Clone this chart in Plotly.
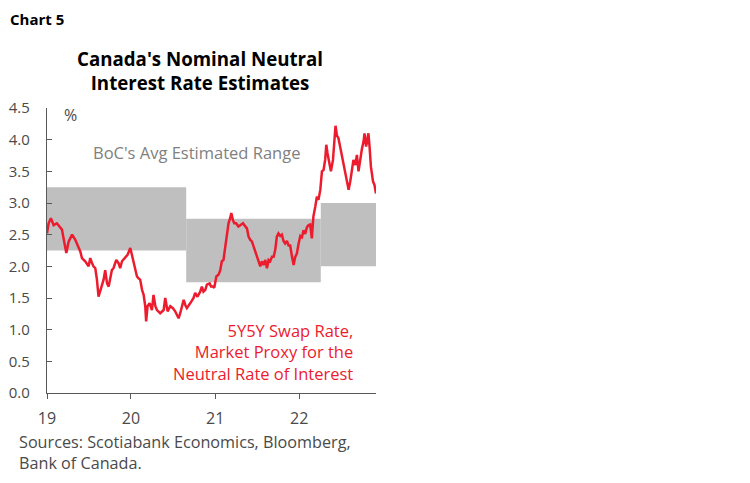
import plotly.graph_objects as go

# 5Y5Y swap rate (weekly-ish readings)
swap_dates = [
    "2019-01-01", "2019-01-08", "2019-01-18", "2019-01-30", "2019-02-13", "2019-02-28", "2019-03-07",
    "2019-03-14", "2019-03-26", "2019-04-05", "2019-04-20", "2019-05-04", "2019-05-18", "2019-05-26",
    "2019-06-02", "2019-06-16", "2019-07-01", "2019-07-08", "2019-07-16", "2019-07-22", "2019-07-30",
    "2019-08-06", "2019-08-13", "2019-08-21", "2019-08-28", "2019-09-04", "2019-09-11", "2019-09-19",
    "2019-09-26", "2019-10-03", "2019-10-10", "2019-10-17", "2019-10-29", "2019-11-08", "2019-11-15",
    "2019-11-23", "2019-12-07", "2019-12-17", "2019-12-29", "2020-01-05", "2020-01-12", "2020-01-20",
    "2020-01-27", "2020-02-03", "2020-02-10", "2020-02-18", "2020-02-25", "2020-03-03", "2020-03-07",
    "2020-03-13", "2020-03-22", "2020-04-01", "2020-04-08", "2020-04-16", "2020-04-23", "2020-05-07",
    "2020-05-22", "2020-05-29", "2020-06-08", "2020-06-20", "2020-07-01", "2020-07-11", "2020-07-26",
    "2020-08-02", "2020-08-10", "2020-08-17", "2020-08-24", "2020-08-31", "2020-09-15", "2020-09-29",
    "2020-10-06", "2020-10-16", "2020-10-28", "2020-11-04", "2020-11-11", "2020-11-19", "2020-11-26",
    "2020-12-08", "2020-12-14", "2020-12-22", "2020-12-28", "2021-01-06", "2021-01-16", "2021-01-23",
    "2021-01-30", "2021-02-06", "2021-02-14", "2021-02-21", "2021-02-28", "2021-03-07", "2021-03-12",
    "2021-03-19", "2021-03-25", "2021-04-02", "2021-04-12", "2021-04-20", "2021-05-02", "2021-05-12",
    "2021-05-19", "2021-05-26", "2021-06-02", "2021-06-10", "2021-06-17", "2021-06-24", "2021-07-01",
    "2021-07-08", "2021-07-16", "2021-07-23", "2021-07-30", "2021-08-07", "2021-08-14", "2021-08-21",
    "2021-08-28", "2021-09-05", "2021-09-12", "2021-09-19", "2021-09-26", "2021-10-03", "2021-10-11",
    "2021-10-18", "2021-10-25", "2021-11-01", "2021-11-09", "2021-11-16", "2021-11-23", "2021-12-01",
    "2021-12-08", "2021-12-15", "2021-12-22", "2021-12-29", "2022-01-06", "2022-01-13", "2022-01-20",
    "2022-01-27", "2022-02-04", "2022-02-11", "2022-02-18", "2022-02-25", "2022-03-04", "2022-03-12",
    "2022-03-19", "2022-03-26", "2022-04-03", "2022-04-10", "2022-04-17", "2022-04-24", "2022-04-29",
    "2022-05-04", "2022-05-13", "2022-05-19", "2022-05-28", "2022-06-04", "2022-06-08", "2022-06-14",
    "2022-06-21", "2022-06-28", "2022-07-06", "2022-07-13", "2022-07-20", "2022-07-28", "2022-08-04",
    "2022-08-11", "2022-08-18", "2022-08-25", "2022-09-02", "2022-09-09", "2022-09-16", "2022-09-23",
    "2022-10-01", "2022-10-08", "2022-10-12", "2022-10-19", "2022-10-25", "2022-10-29", "2022-11-03",
    "2022-11-09", "2022-11-18", "2022-11-24", "2022-12-01",
]
swap_rate = [
    2.52, 2.68, 2.76, 2.65, 2.68, 2.60, 2.58,
    2.44, 2.21, 2.39, 2.50, 2.42, 2.31, 2.23,
    2.13, 2.08, 2.00, 2.13, 2.05, 2.00, 1.97,
    1.79, 1.52, 1.63, 1.71, 1.79, 1.94, 1.73,
    1.68, 1.84, 1.94, 1.97, 2.10, 2.05, 1.97,
    2.08, 2.15, 2.18, 2.29, 2.18, 2.10, 1.94,
    1.84, 1.81, 1.79, 1.63, 1.55, 1.37, 1.13,
    1.37, 1.42, 1.31, 1.55, 1.37, 1.31, 1.26,
    1.31, 1.50, 1.29, 1.37, 1.34, 1.29, 1.18,
    1.26, 1.39, 1.47, 1.39, 1.34, 1.42, 1.50,
    1.58, 1.52, 1.60, 1.68, 1.60, 1.63, 1.71,
    1.73, 1.68, 1.68, 1.66, 1.84, 1.87, 1.94,
    2.08, 2.10, 2.31, 2.52, 2.68, 2.76, 2.84,
    2.73, 2.68, 2.68, 2.63, 2.65, 2.68, 2.63,
    2.60, 2.47, 2.42, 2.39, 2.31, 2.26, 2.18,
    2.10, 2.00, 2.08, 2.02, 2.10, 1.97, 2.10,
    2.08, 2.15, 2.15, 2.26, 2.47, 2.52, 2.48,
    2.50, 2.40, 2.36, 2.40, 2.33, 2.33, 2.15,
    2.02, 2.15, 2.20, 2.35, 2.48, 2.46, 2.57,
    2.51, 2.62, 2.65, 2.66, 2.44, 2.79, 2.94,
    3.10, 3.05, 3.21, 3.50, 3.52, 3.68, 3.92,
    3.79, 3.57, 3.50, 3.68, 4.10, 4.22, 4.07,
    4.02, 3.89, 3.73, 3.63, 3.50, 3.31, 3.21,
    3.34, 3.50, 3.68, 3.60, 3.76, 3.50, 3.68,
    3.86, 3.97, 4.10, 3.89, 4.02, 4.10, 3.89,
    3.57, 3.34, 3.29, 3.15,
]

# BoC average estimated neutral range
range_start = ["2019-01-01", "2020-08-28", "2022-04-05"]
range_end = ["2020-08-28", "2022-04-05", "2022-12-01"]
range_low = [2.25, 1.75, 2.00]
range_high = [3.25, 2.75, 3.00]

y_ticks = [0.0, 0.5, 1.0, 1.5, 2.0, 2.5, 3.0, 3.5, 4.0, 4.5]
x_ticks = ["2019-01-01", "2020-01-01", "2021-01-01", "2022-01-01"]
x_labels = ["19", "20", "21", "22"]

FONT = "Open Sans"
AXIS_GREY = "#595959"
TEXT_GREY = "#4a4a4a"
RED = "#ec1c2e"

fig = go.Figure()

for x0, x1, lo, hi in zip(range_start, range_end, range_low, range_high):
    fig.add_shape(type="rect", xref="x", yref="y", x0=x0, x1=x1, y0=lo, y1=hi,
                  fillcolor="#bfbfbf", line_width=0, layer="below")

fig.add_trace(go.Scatter(x=swap_dates, y=swap_rate, mode="lines",
                         line=dict(color=RED, width=2.5), hoverinfo="x+y"))

# the page body adds an 8px offset, so the margins are pulled in by that much
fig.update_layout(
    width=750, height=483,
    margin=dict(l=39, r=382, t=100, b=98),
    paper_bgcolor="white", plot_bgcolor="white",
    showlegend=False,
    font=dict(family=FONT, color=AXIS_GREY, size=15),
)

fig.update_xaxes(
    type="date", range=["2019-01-01", "2022-12-01"],
    tickvals=x_ticks, ticktext=x_labels,
    showgrid=False, zeroline=False, automargin=False,
    showline=True, linecolor=AXIS_GREY, linewidth=1.3,
    ticks="outside", ticklen=5, tickcolor=AXIS_GREY, tickwidth=1.3,
    ticklabelstandoff=6,
    tickfont=dict(size=16, color=TEXT_GREY),
)
fig.update_yaxes(
    range=[0, 4.5], tickvals=y_ticks, ticktext=[f"{v:.1f}" for v in y_ticks],
    showgrid=False, zeroline=False, automargin=False,
    showline=True, linecolor=AXIS_GREY, linewidth=1.3,
    ticks="inside", ticklen=5, tickcolor=AXIS_GREY, tickwidth=1.3,
    ticklabelstandoff=13,
    tickfont=dict(size=15, color=TEXT_GREY),
)

fig.add_annotation(text="<b>Chart 5</b>", xref="paper", yref="paper", x=-0.117, y=1.351,
                   xanchor="left", yanchor="top", showarrow=False, borderpad=0,
                   font=dict(family=FONT, size=15, color="black"))
fig.add_annotation(text="<b>Canada's Nominal Neutral<br>Interest Rate Estimates</b>",
                   xref="paper", yref="paper", x=0.466, y=1.132,
                   xanchor="center", yanchor="middle", showarrow=False,
                   font=dict(family=FONT, size=18.7, color="black"))
fig.add_annotation(text="%", xref="paper", yref="paper", x=0.07, y=0.975,
                   xanchor="center", yanchor="middle", showarrow=False,
                   font=dict(family=FONT, size=16, color=TEXT_GREY))
fig.add_annotation(text="BoC's Avg Estimated Range", xref="x", yref="y", x="2020-10-11", y=3.79,
                   xanchor="center", yanchor="middle", showarrow=False,
                   font=dict(family=FONT, size=16.5, color="#808080"))
fig.add_annotation(text="5Y5Y Swap Rate,<br>Market Proxy for the<br>Neutral Rate of Interest",
                   xref="x", yref="y", x="2022-09-01", y=0.65, align="right",
                   xanchor="right", yanchor="middle", showarrow=False,
                   font=dict(family=FONT, size=16.5, color=RED))
fig.add_annotation(text="Sources: Scotiabank Economics, Bloomberg,<br>Bank of Canada.",
                   xref="paper", yref="paper", x=-0.09, y=-0.209, align="left",
                   xanchor="left", yanchor="middle", showarrow=False,
                   font=dict(family=FONT, size=16.2, color=TEXT_GREY))

fig.write_html("out.html")
